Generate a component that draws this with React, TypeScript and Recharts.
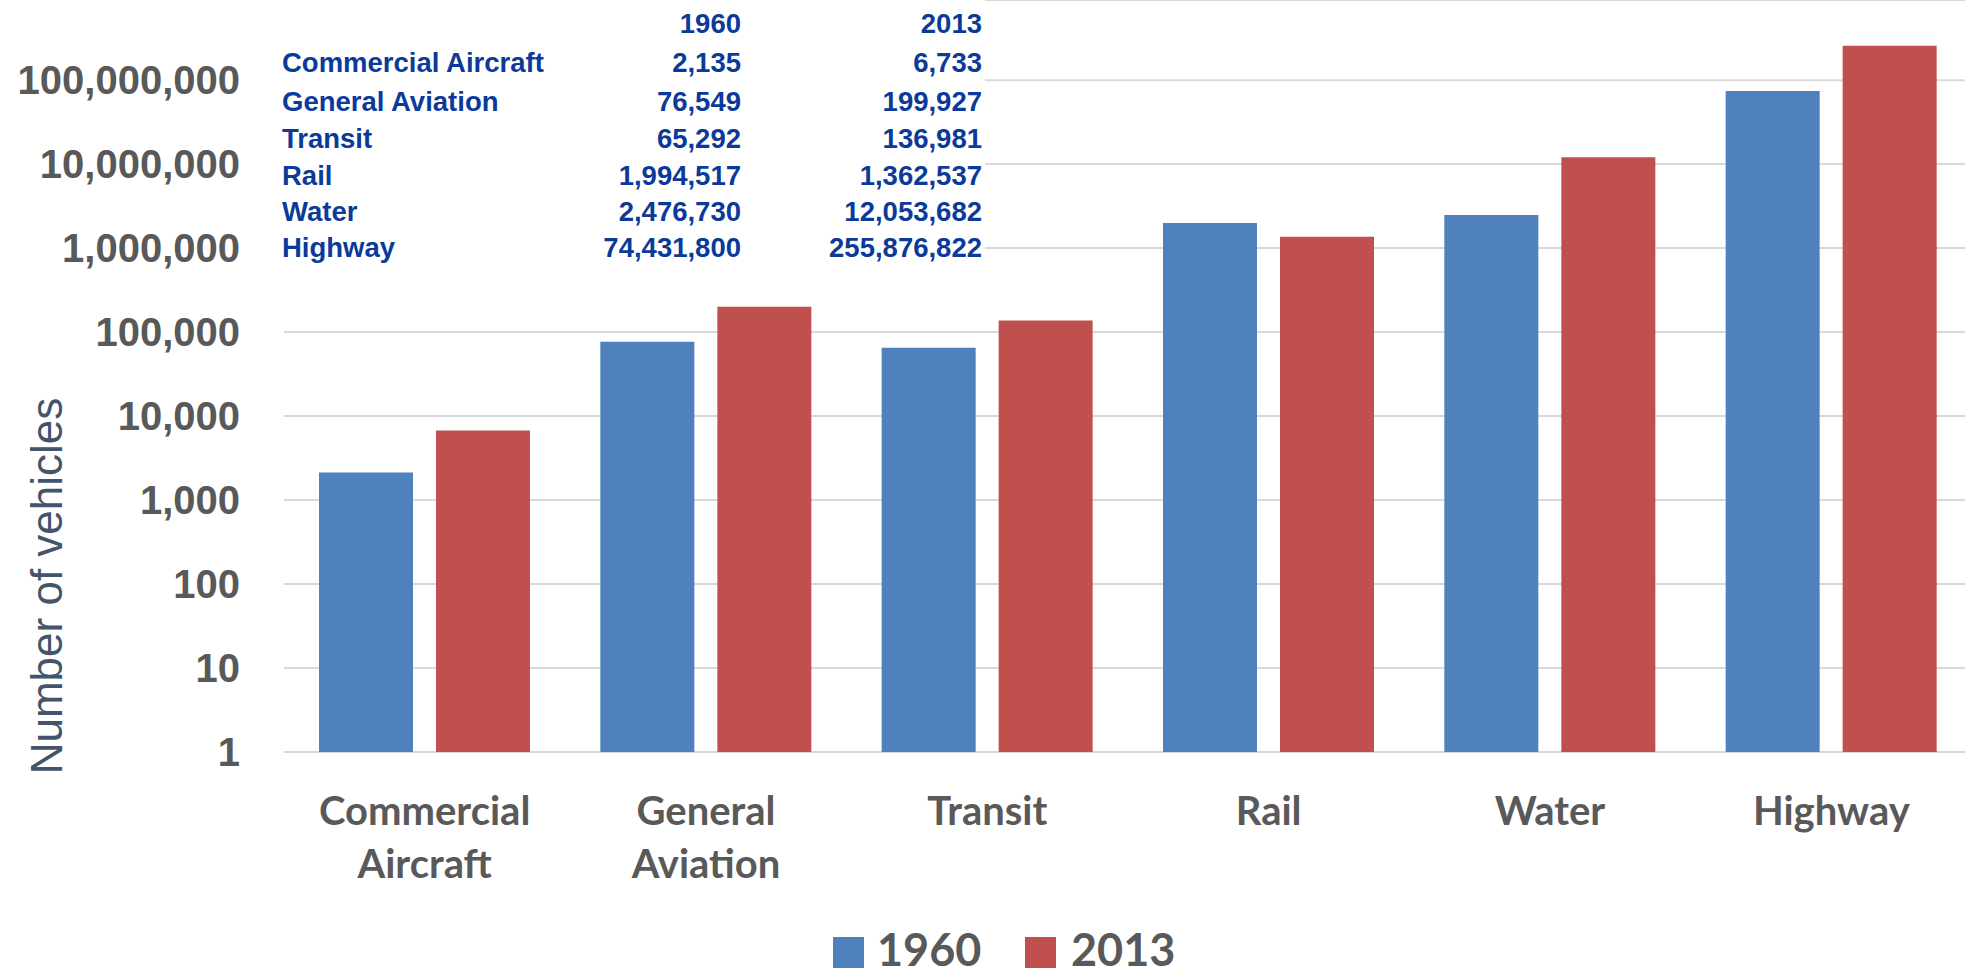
import { BarChart, Bar, XAxis, YAxis, CartesianGrid } from "recharts";

// categories and values (the little table gives the exact numbers)
const categories = ["Commercial\nAircraft", "General\nAviation", "Transit", "Rail", "Water", "Highway"];
const tableNames = ["Commercial Aircraft", "General Aviation", "Transit", "Rail", "Water", "Highway"];
const vehicles1960 = [2135, 76549, 65292, 1994517, 2476730, 74431800];
const vehicles2013 = [6733, 199927, 136981, 1362537, 12053682, 255876822];
const years = ["1960", "2013"];
const yTicks = [1, 10, 100, 1000, 10000, 100000, 1000000, 10000000, 100000000];

const BLUE = "#4F81BD";
const RED = "#C0504D";
const GRAY = "#595959";
const NAVY = "#0B3A9A";

const data = categories.map((name, i) => ({
  name,
  y1960: vehicles1960[i],
  y2013: vehicles2013[i],
}));

const fmt = (v: number) => v.toLocaleString("en-US");

function CategoryTick({ x, y, payload }: any) {
  const lines = String(payload.value).split("\n");
  return (
    <text
      x={x}
      y={y}
      textAnchor="middle"
      fill={GRAY}
      fontFamily="Lato, sans-serif"
      fontWeight={700}
      fontSize={40}
    >
      {lines.map((line, i) => (
        <tspan key={i} x={x} dy={i === 0 ? 73 : 53}>
          {line}
        </tspan>
      ))}
    </text>
  );
}

function AxisTitle() {
  return (
    <text
      transform="translate(62,586) rotate(-90)"
      textAnchor="middle"
      fill="#44546A"
      fontFamily="'Liberation Sans', Arial, sans-serif"
      fontSize={44}
    >
      Number of vehicles
    </text>
  );
}

const rowBaselines = [72, 111, 148, 185, 221, 257];

function Overlay() {
  const font = "'Liberation Sans', Arial, sans-serif";
  return (
    <svg
      width={1965}
      height={977}
      style={{ position: "absolute", left: 0, top: 0, pointerEvents: "none" }}
    >
      <rect x={268} y={0} width={717} height={262} fill="#fff" />
      <g fontFamily={font} fontWeight={700} fontSize={27.5} fill={NAVY}>
        <text x={741} y={33} textAnchor="end">{years[0]}</text>
        <text x={982} y={33} textAnchor="end">{years[1]}</text>
        {tableNames.map((n, i) => (
          <g key={n}>
            <text x={282} y={rowBaselines[i]}>{n}</text>
            <text x={741} y={rowBaselines[i]} textAnchor="end">{fmt(vehicles1960[i])}</text>
            <text x={982} y={rowBaselines[i]} textAnchor="end">{fmt(vehicles2013[i])}</text>
          </g>
        ))}
      </g>
      <g fontFamily="Lato, sans-serif" fontWeight={700} fontSize={45} fill={GRAY}>
        <rect x={833} y={937} width={31} height={31} fill={BLUE} />
        <text x={877} y={966}>{years[0]}</text>
        <rect x={1025} y={937} width={31} height={31} fill={RED} />
        <text x={1071} y={966}>{years[1]}</text>
      </g>
    </svg>
  );
}

export default function App() {
  return (
    <div
      style={{
        position: "fixed",
        left: 0,
        top: 0,
        width: 1965,
        height: 977,
        overflow: "hidden",
        background: "#fff",
      }}
    >
      <BarChart
        width={1972}
        height={977}
        data={data}
        margin={{ top: 0, right: 0, left: 0, bottom: 0 }}
        barSize={94}
        barGap={23}
      >
        <CartesianGrid vertical={false} stroke="#D9D9D9" strokeWidth={2} />
        <XAxis
          dataKey="name"
          height={225}
          axisLine={false}
          tickLine={false}
          tickSize={0}
          tickMargin={0}
          interval={0}
          tick={<CategoryTick />}
        />
        <YAxis
          type="number"
          scale="log"
          domain={[1, 900000000]}
          ticks={yTicks}
          width={284}
          axisLine={false}
          tickLine={false}
          tickSize={0}
          tickMargin={44}
          tickFormatter={fmt}
          tick={{
            fill: GRAY,
            fontSize: 40,
            fontWeight: 700,
            fontFamily: "'Liberation Sans', Arial, sans-serif",
          }}
          label={{ content: () => <AxisTitle /> }}
        />
        <Bar dataKey="y1960" name={years[0]} fill={BLUE} isAnimationActive={false} />
        <Bar dataKey="y2013" name={years[1]} fill={RED} isAnimationActive={false} />
      </BarChart>
      <Overlay />
    </div>
  );
}
